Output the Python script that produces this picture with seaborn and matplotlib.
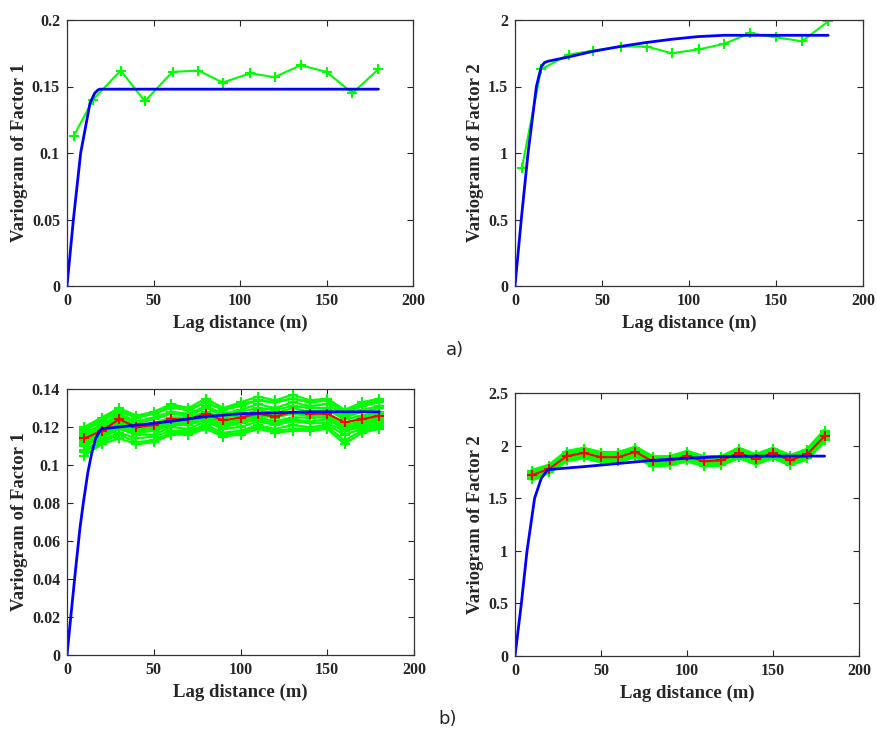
import matplotlib
matplotlib.use('Agg')
import matplotlib.pyplot as plt
import pandas as pd
import seaborn as sns

# a) experimental variograms and fitted models
lag_a = [4, 15, 31, 45, 61, 76, 90, 106, 120, 135, 150, 165, 180]
exp_f1 = [0.113, 0.140, 0.162, 0.139, 0.161, 0.162, 0.153, 0.160, 0.157, 0.166, 0.161, 0.145, 0.163]
exp_f2 = [0.89, 1.63, 1.74, 1.77, 1.80, 1.80, 1.75, 1.78, 1.82, 1.90, 1.87, 1.84, 1.99]

model_a1_x = [0, 3.7, 7.9, 13.3, 16, 18, 19, 20, 180]
model_a1_y = [0, 0.050, 0.100, 0.1375, 0.145, 0.1475, 0.148, 0.148, 0.148]
model_a2_x = [0, 3.6, 7.5, 12.3, 15.1, 17, 19, 30, 45, 60, 75, 90, 105, 120, 180]
model_a2_y = [0, 0.50, 1.00, 1.50, 1.65, 1.68, 1.69, 1.72, 1.765, 1.80, 1.83, 1.855, 1.875, 1.885, 1.885]

# b) simulated realizations, their mean and fitted models
lag_b = [10, 20, 30, 40, 50, 60, 70, 80, 90, 100, 110, 120, 130, 140, 150, 160, 170, 180]
mean_f1 = [0.114, 0.118, 0.124, 0.120, 0.121, 0.124, 0.124, 0.127, 0.1235, 0.125, 0.127, 0.1255,
           0.128, 0.127, 0.127, 0.1225, 0.124, 0.126]
real_f1 = [
    [0.120, 0.125, 0.130, 0.126, 0.128, 0.132, 0.130, 0.135, 0.130, 0.133, 0.136, 0.134, 0.137, 0.134, 0.135, 0.129, 0.133, 0.135],
    [0.119, 0.124, 0.129, 0.125, 0.127, 0.131, 0.129, 0.133, 0.129, 0.132, 0.134, 0.133, 0.135, 0.133, 0.134, 0.128, 0.132, 0.134],
    [0.118, 0.123, 0.128, 0.125, 0.127, 0.130, 0.129, 0.133, 0.129, 0.131, 0.134, 0.133, 0.135, 0.133, 0.134, 0.127, 0.131, 0.133],
    [0.117, 0.121, 0.127, 0.123, 0.125, 0.128, 0.127, 0.131, 0.127, 0.129, 0.132, 0.130, 0.133, 0.131, 0.132, 0.126, 0.129, 0.131],
    [0.116, 0.120, 0.126, 0.122, 0.124, 0.127, 0.126, 0.130, 0.126, 0.128, 0.130, 0.129, 0.131, 0.130, 0.130, 0.125, 0.128, 0.130],
    [0.115, 0.119, 0.125, 0.121, 0.122, 0.125, 0.125, 0.128, 0.125, 0.126, 0.129, 0.127, 0.130, 0.128, 0.129, 0.124, 0.126, 0.128],
    [0.114, 0.118, 0.123, 0.120, 0.121, 0.124, 0.124, 0.127, 0.123, 0.125, 0.127, 0.126, 0.128, 0.127, 0.127, 0.122, 0.125, 0.127],
    [0.113, 0.117, 0.122, 0.119, 0.120, 0.123, 0.123, 0.126, 0.122, 0.124, 0.126, 0.125, 0.127, 0.126, 0.126, 0.121, 0.123, 0.125],
    [0.112, 0.116, 0.121, 0.118, 0.119, 0.122, 0.122, 0.125, 0.121, 0.123, 0.125, 0.123, 0.125, 0.125, 0.125, 0.120, 0.122, 0.124],
    [0.111, 0.115, 0.120, 0.117, 0.118, 0.121, 0.121, 0.124, 0.120, 0.122, 0.124, 0.122, 0.124, 0.123, 0.124, 0.119, 0.121, 0.123],
    [0.110, 0.114, 0.119, 0.116, 0.116, 0.120, 0.119, 0.123, 0.119, 0.120, 0.123, 0.121, 0.123, 0.122, 0.122, 0.118, 0.120, 0.122],
    [0.108, 0.113, 0.117, 0.114, 0.115, 0.118, 0.118, 0.121, 0.117, 0.118, 0.121, 0.119, 0.121, 0.120, 0.121, 0.116, 0.119, 0.121],
    [0.107, 0.112, 0.116, 0.112, 0.113, 0.117, 0.117, 0.120, 0.116, 0.117, 0.120, 0.118, 0.119, 0.119, 0.120, 0.113, 0.118, 0.120],
    [0.105, 0.111, 0.114, 0.111, 0.112, 0.116, 0.116, 0.119, 0.115, 0.116, 0.119, 0.117, 0.118, 0.118, 0.119, 0.111, 0.117, 0.119],
]
mean_f2 = [1.72, 1.78, 1.90, 1.93, 1.89, 1.89, 1.94, 1.85, 1.86, 1.90, 1.85, 1.86, 1.93, 1.87, 1.93, 1.86, 1.92, 2.09]
real_f2 = [
    [1.76, 1.81, 1.94, 1.97, 1.93, 1.93, 1.98, 1.89, 1.89, 1.94, 1.89, 1.89, 1.97, 1.91, 1.97, 1.90, 1.96, 2.14],
    [1.75, 1.80, 1.93, 1.96, 1.92, 1.92, 1.97, 1.88, 1.88, 1.93, 1.88, 1.88, 1.96, 1.90, 1.96, 1.89, 1.95, 2.12],
    [1.74, 1.79, 1.92, 1.95, 1.91, 1.91, 1.96, 1.87, 1.88, 1.92, 1.87, 1.88, 1.95, 1.89, 1.95, 1.88, 1.94, 2.11],
    [1.73, 1.78, 1.91, 1.94, 1.90, 1.90, 1.95, 1.86, 1.87, 1.91, 1.86, 1.87, 1.94, 1.88, 1.94, 1.87, 1.93, 2.10],
    [1.71, 1.77, 1.89, 1.92, 1.88, 1.88, 1.93, 1.84, 1.85, 1.89, 1.84, 1.85, 1.92, 1.86, 1.92, 1.85, 1.91, 2.08],
    [1.70, 1.76, 1.88, 1.91, 1.87, 1.87, 1.92, 1.83, 1.84, 1.88, 1.83, 1.84, 1.91, 1.85, 1.91, 1.84, 1.90, 2.07],
    [1.68, 1.75, 1.86, 1.89, 1.85, 1.85, 1.90, 1.81, 1.82, 1.86, 1.81, 1.82, 1.89, 1.83, 1.89, 1.82, 1.88, 2.05],
]

model_b1_x = [0, 2.5, 5, 7.5, 9.4, 12, 14.2, 16.5, 19, 20, 40, 60, 80, 100, 120, 140, 180]
model_b1_y = [0, 0.023, 0.0455, 0.067, 0.080, 0.096, 0.106, 0.114, 0.118, 0.119, 0.121, 0.123,
              0.1255, 0.127, 0.1275, 0.128, 0.128]
model_b2_x = [0, 3.7, 7, 11.4, 15.3, 19, 25, 40, 60, 80, 100, 120, 140, 180]
model_b2_y = [0, 0.50, 1.00, 1.50, 1.69, 1.77, 1.78, 1.80, 1.83, 1.86, 1.88, 1.895, 1.90, 1.90]

GREEN = '#00ff00'
BLUE = '#0000ff'
RED = '#ff0000'

sns.set_style('ticks')
plt.rcParams['font.family'] = ['Liberation Serif', 'DejaVu Serif']
plt.rcParams['font.weight'] = 'bold'

fig = plt.figure(figsize=(8.77, 7.31), dpi=100)
W, H = 877, 731


def make_axes(left, top, right, bottom):
    return fig.add_axes([left / W, 1 - bottom / H, (right - left) / W, (bottom - top) / H])


def style(ax, ylim, yticks, ylabel):
    ax.set_xlim(0, 200)
    ax.set_ylim(*ylim)
    ax.set_xticks([0, 50, 100, 150, 200])
    ax.set_yticks(yticks)
    ax.set_yticklabels(['%g' % v for v in yticks])
    ax.tick_params(direction='in', top=True, right=True, length=4, width=0.8,
                   labelsize=11.5, pad=5)
    for lab in ax.get_xticklabels() + ax.get_yticklabels():
        lab.set_fontweight('bold')
    for sp in ax.spines.values():
        sp.set_visible(True)
        sp.set_linewidth(0.9)
        sp.set_color('#333333')
    ax.set_xlabel('Lag distance (m)', fontsize=13.5, fontweight='bold', labelpad=4)
    ax.set_ylabel(ylabel, fontsize=13.5, fontweight='bold', labelpad=3)
    leg = ax.get_legend()
    if leg is not None:
        leg.remove()


def realizations_df(reals):
    rows = []
    for i, r in enumerate(reals):
        for x, y in zip(lag_b, r):
            rows.append({'lag': x, 'gamma': y, 'sim': i})
    return pd.DataFrame(rows)


def mk(color):
    return dict(marker='+', markersize=7, markeredgewidth=1.5, markeredgecolor=color,
                markerfacecolor=color)


# a) Factor 1
ax1 = make_axes(67, 20, 413, 286)
sns.lineplot(x=lag_a, y=exp_f1, ax=ax1, color=GREEN, linewidth=1.5, **mk(GREEN))
sns.lineplot(x=model_a1_x, y=model_a1_y, ax=ax1, color=BLUE, linewidth=2)
style(ax1, (0, 0.2), [0, 0.05, 0.1, 0.15, 0.2], 'Variogram of Factor 1')

# a) Factor 2
ax2 = make_axes(515, 20, 863, 286)
sns.lineplot(x=lag_a, y=exp_f2, ax=ax2, color=GREEN, linewidth=1.5, **mk(GREEN))
sns.lineplot(x=model_a2_x, y=model_a2_y, ax=ax2, color=BLUE, linewidth=2)
style(ax2, (0, 2), [0, 0.5, 1, 1.5, 2], 'Variogram of Factor 2')

# b) Factor 1
ax3 = make_axes(67, 389, 414, 655)
sns.lineplot(data=realizations_df(real_f1), x='lag', y='gamma', units='sim', estimator=None,
             ax=ax3, color=GREEN, linewidth=1.6, **mk(GREEN))
sns.lineplot(x=lag_b, y=mean_f1, ax=ax3, color=RED, linewidth=1.5, **mk(RED))
sns.lineplot(x=model_b1_x, y=model_b1_y, ax=ax3, color=BLUE, linewidth=2)
style(ax3, (0, 0.14), [0, 0.02, 0.04, 0.06, 0.08, 0.1, 0.12, 0.14], 'Variogram of Factor 1')

# b) Factor 2
ax4 = make_axes(515, 393, 859, 656)
sns.lineplot(data=realizations_df(real_f2), x='lag', y='gamma', units='sim', estimator=None,
             ax=ax4, color=GREEN, linewidth=3, **mk(GREEN))
sns.lineplot(x=lag_b, y=mean_f2, ax=ax4, color=RED, linewidth=1.5, **mk(RED))
sns.lineplot(x=model_b2_x, y=model_b2_y, ax=ax4, color=BLUE, linewidth=2)
style(ax4, (0, 2.5), [0, 0.5, 1, 1.5, 2, 2.5], 'Variogram of Factor 2')

fig.text(455 / W, 1 - 350 / H, 'a)', family='DejaVu Sans', fontweight='normal',
         fontsize=13, ha='center', va='center')
fig.text(448 / W, 1 - 719 / H, 'b)', family='DejaVu Sans', fontweight='normal',
         fontsize=13, ha='center', va='center')

fig.savefig('out.png', dpi=100)
